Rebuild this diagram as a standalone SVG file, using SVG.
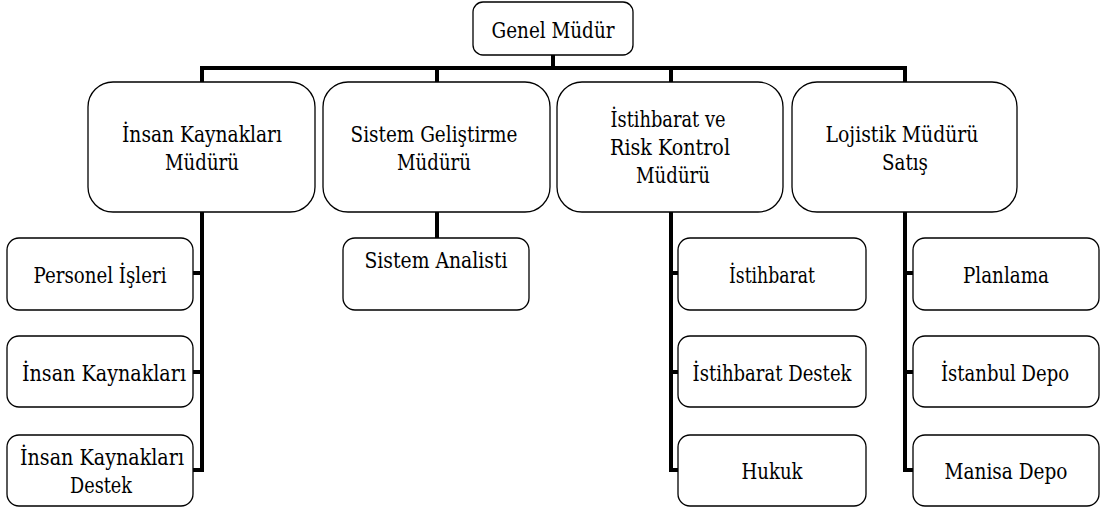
<svg xmlns="http://www.w3.org/2000/svg" width="1107" height="511" viewBox="0 0 1107 511">
<style>
.box{fill:#fff;stroke:#000;stroke-width:1.3}
.t{font-family:'DejaVu Serif','Liberation Serif',serif;font-size:22px;fill:#000;text-anchor:middle}
.c{fill:none;stroke:#000;stroke-width:4;stroke-linejoin:miter;stroke-linecap:square}
</style>
<rect width="1107" height="511" fill="#fff"/>
<g id="connectors">
<path class="c" d="M553,55 V68"/>
<path class="c" d="M202,82 V68 H905 V82"/>
<path class="c" d="M437,68 V82"/>
<path class="c" d="M671,68 V82"/>
<path class="c" d="M202,212 V470 H194"/>
<path class="c" d="M202,273 H194"/>
<path class="c" d="M202,372 H194"/>
<path class="c" d="M437,212 V238"/>
<path class="c" d="M671,212 V470 H678"/>
<path class="c" d="M671,273 H678"/>
<path class="c" d="M671,372 H678"/>
<path class="c" d="M905,212 V470 H913"/>
<path class="c" d="M905,273 H913"/>
<path class="c" d="M905,372 H913"/>
</g>
<g id="genel-mudur">
<rect class="box" x="473" y="2" width="160" height="53" rx="10"/>
<text class="t" x="553" y="38" textLength="123" lengthAdjust="spacingAndGlyphs">Genel Müdür</text>
</g>
<g id="ik-mudur">
<rect class="box" x="88" y="82" width="227" height="130" rx="25"/>
<text class="t" x="202" y="142" textLength="160" lengthAdjust="spacingAndGlyphs">İnsan Kaynakları</text>
<text class="t" x="202" y="170" textLength="74" lengthAdjust="spacingAndGlyphs">Müdürü</text>
</g>
<g id="sistem-mudur">
<rect class="box" x="323" y="82" width="227" height="130" rx="25"/>
<text class="t" x="434" y="142" textLength="167" lengthAdjust="spacingAndGlyphs">Sistem Geliştirme</text>
<text class="t" x="434" y="170" textLength="74" lengthAdjust="spacingAndGlyphs">Müdürü</text>
</g>
<g id="istihbarat-mudur">
<rect class="box" x="557" y="82" width="226" height="130" rx="25"/>
<text class="t" x="668" y="127" textLength="115" lengthAdjust="spacingAndGlyphs">İstihbarat ve</text>
<text class="t" x="670" y="155" textLength="120" lengthAdjust="spacingAndGlyphs">Risk Kontrol</text>
<text class="t" x="673" y="183" textLength="74" lengthAdjust="spacingAndGlyphs">Müdürü</text>
</g>
<g id="lojistik-mudur">
<rect class="box" x="792" y="82" width="225" height="130" rx="25"/>
<text class="t" x="902" y="142" textLength="153" lengthAdjust="spacingAndGlyphs">Lojistik Müdürü</text>
<text class="t" x="905" y="170" textLength="46" lengthAdjust="spacingAndGlyphs">Satış</text>
</g>
<g id="personel">
<rect class="box" x="7" y="238" width="186" height="72" rx="12"/>
<text class="t" x="100" y="283" textLength="133" lengthAdjust="spacingAndGlyphs">Personel İşleri</text>
</g>
<g id="ik">
<rect class="box" x="7" y="336" width="186" height="71" rx="12"/>
<text class="t" x="104" y="381" textLength="164" lengthAdjust="spacingAndGlyphs">İnsan Kaynakları</text>
</g>
<g id="ik-destek">
<rect class="box" x="7" y="435" width="186" height="71" rx="12"/>
<text class="t" x="102" y="465" textLength="164" lengthAdjust="spacingAndGlyphs">İnsan Kaynakları</text>
<text class="t" x="101" y="493" textLength="62" lengthAdjust="spacingAndGlyphs">Destek</text>
</g>
<g id="sistem-analisti">
<rect class="box" x="343" y="238" width="186" height="72" rx="12"/>
<text class="t" x="436" y="268" textLength="143" lengthAdjust="spacingAndGlyphs">Sistem Analisti</text>
</g>
<g id="istihbarat">
<rect class="box" x="678" y="238" width="188" height="72" rx="12"/>
<text class="t" x="772" y="283" textLength="86" lengthAdjust="spacingAndGlyphs">İstihbarat</text>
</g>
<g id="istihbarat-destek">
<rect class="box" x="678" y="336" width="188" height="71" rx="12"/>
<text class="t" x="772" y="381" textLength="159" lengthAdjust="spacingAndGlyphs">İstihbarat Destek</text>
</g>
<g id="hukuk">
<rect class="box" x="678" y="435" width="188" height="71" rx="12"/>
<text class="t" x="772" y="479" textLength="61" lengthAdjust="spacingAndGlyphs">Hukuk</text>
</g>
<g id="planlama">
<rect class="box" x="913" y="238" width="186" height="72" rx="12"/>
<text class="t" x="1006" y="283" textLength="86" lengthAdjust="spacingAndGlyphs">Planlama</text>
</g>
<g id="istanbul-depo">
<rect class="box" x="913" y="336" width="186" height="71" rx="12"/>
<text class="t" x="1005" y="381" textLength="128" lengthAdjust="spacingAndGlyphs">İstanbul Depo</text>
</g>
<g id="manisa-depo">
<rect class="box" x="913" y="435" width="186" height="71" rx="12"/>
<text class="t" x="1006" y="479" textLength="123" lengthAdjust="spacingAndGlyphs">Manisa Depo</text>
</g>
</svg>
